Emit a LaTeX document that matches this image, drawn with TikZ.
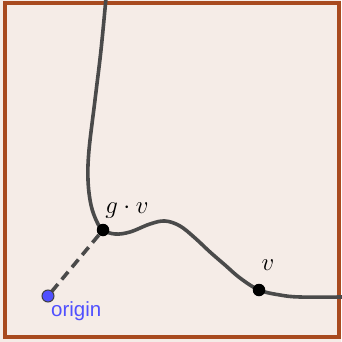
\documentclass[tikz,border=0pt]{standalone}
\usepackage{fontspec}
\newfontfamily\labelsans{Liberation Sans}
\definecolor{framebrown}{HTML}{A84A1F}
\definecolor{bgcream}{HTML}{F5ECE7}
\definecolor{curvegray}{HTML}{4A4A4A}
\definecolor{originblue}{HTML}{5050FF}
\begin{document}
\begin{tikzpicture}[x=1pt,y=-1pt,
  pt/.style={circle,fill=black,inner sep=0pt,minimum size=12.5pt},
  curve/.style={draw=curvegray,line width=3.6pt,line cap=round},
  lbl/.style={inner sep=0pt,font=\fontsize{24}{26}\selectfont}]
\useasboundingbox (0,0) rectangle (341,342);
\fill[bgcream] (0,0) rectangle (341,342);
\draw[framebrown,line width=3.5pt] (5,3) rectangle (339,337);
\draw[curve] plot[smooth,tension=0.6] coordinates {(106,-2) (101,50) (95,100) (89,150) (88,180) (91,205) (97,222) (103,230) (115,234) (130,232) (150,224) (165,221) (180,226) (195,238) (210,252) (225,265) (240,278) (259,290) (280,295) (300,297) (342,297)};
\node[pt] (gv) at (103,230) {};
\node[pt] (v) at (259,290) {};
\draw[curvegray,line width=3.6pt,dash pattern=on 10pt off 6pt] (gv) -- (48,296);
\node[circle,fill=originblue,draw=black!75,line width=1pt,inner sep=0pt,minimum size=12pt] (o) at (48,296) {};
\node[lbl] (gvl) at (127,210) {$g\cdot v$};
\node[lbl] (vl) at (268,265) {$v$};
\node[inner sep=0pt,font=\labelsans\fontsize{20.5}{22}\selectfont,text=originblue,anchor=west] (ol) at (51,311) {origin};
\end{tikzpicture}
\end{document}
